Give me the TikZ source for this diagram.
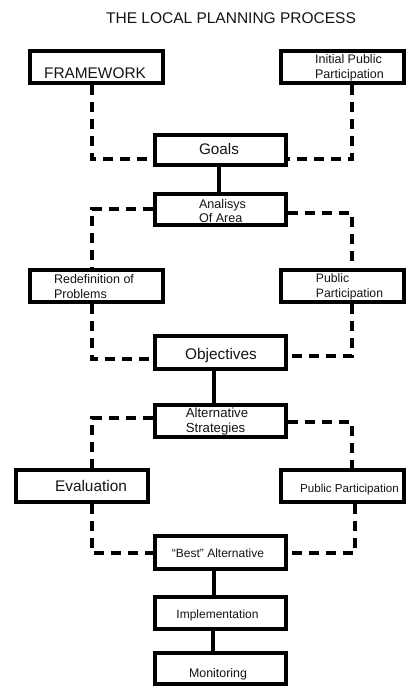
\documentclass[tikz,border=0pt]{standalone}
\usepackage{fontspec}
\setmainfont{Liberation Sans}
\usetikzlibrary{calc}
\tikzset{
  box/.style={draw=black, line width=3.6pt, fill=white, inner sep=0pt, minimum width=131.5pt},
  lbl/.style={inner sep=0pt, text=black!92},
  dl/.style={draw=black, line width=3.8pt, dash pattern=on 10pt off 7pt},
  sl/.style={draw=black, line width=3.6pt},
}
\newcommand{\fs}[2]{\fontsize{#1}{#2}\selectfont}
\begin{document}
\begin{tikzpicture}[x=1pt,y=-1pt]
\useasboundingbox (0,0) rectangle (406,687);
% title
\node[lbl, anchor=base, font=\fs{15.5}{18}] (title) at (231,23.3) {THE LOCAL PLANNING PROCESS};
% boxes
\node[box, minimum width=133.5pt, minimum height=32.5pt] (fw) at (96.5,67) {};
\node[box, minimum width=123.5pt, minimum height=32.5pt] (ipp) at (342.5,67) {};
\node[box, minimum height=30.5pt] (goals) at (220.5,150) {};
\node[box, minimum height=31.5pt] (ana) at (220.5,209.5) {};
\node[box, minimum width=133.5pt, minimum height=32.5pt] (redef) at (96.5,286) {};
\node[box, minimum width=123.5pt, minimum height=32.5pt] (pp1) at (342.5,286) {};
\node[box, minimum height=33.5pt] (obj) at (220.5,352.5) {};
\node[box, minimum height=32.5pt] (alt) at (220.5,421) {};
\node[box, minimum width=132.5pt, minimum height=32.5pt] (eval) at (82,486) {};
\node[box, minimum width=123.5pt, minimum height=32.5pt] (pp2) at (342.5,486) {};
\node[box, minimum height=33.5pt] (best) at (220.5,552.5) {};
\node[box, minimum height=32.5pt] (impl) at (220.5,613) {};
\node[box, minimum height=31.5pt] (mon) at (220.5,668.5) {};
% labels
\node[lbl, anchor=base, font=\fs{15.4}{18}] (tfw) at (95,78.3) {FRAMEWORK};
\node[lbl, align=left, font=\fs{12.5}{14.3}] (tipp) at (349.5,67.9) {Initial Public\\Participation};
\node[lbl, anchor=base, font=\fs{15.3}{18}] (tgoals) at (219,155) {Goals};
\node[lbl, align=left, font=\fs{12.6}{14.4}] (tana) at (222.5,210.9) {Analisys\\Of Area};
\node[lbl, align=left, font=\fs{12.5}{15}] (tredef) at (94,287) {Redefinition of\\Problems};
\node[lbl, align=left, font=\fs{12.2}{15}] (tpp1) at (349.5,287) {Public\\Participation};
\node[lbl, anchor=base, font=\fs{15.4}{18}] (tobj) at (221,359.3) {Objectives};
\node[lbl, align=left, font=\fs{13.2}{15.5}] (talt) at (217,421.6) {Alternative\\Strategies};
\node[lbl, anchor=base, font=\fs{15.4}{18}] (teval) at (91,491.7) {Evaluation};
\node[lbl, anchor=base, font=\fs{11.6}{14}] (tpp2) at (349.5,492.7) {Public Participation};
\node[lbl, anchor=base, font=\fs{12}{14}] (tbest) at (218,557.3) {“Best” Alternative};
\node[lbl, anchor=base, font=\fs{12}{14}] (timpl) at (217.5,618.3) {Implementation};
\node[lbl, anchor=base, font=\fs{12.4}{14}] (tmon) at (218,677.7) {Monitoring};
% corner coordinates
\coordinate (c1) at (92,159);
\coordinate (c2) at (352,159);
\coordinate (c3) at (92,209);
\coordinate (c4) at (352,213);
\coordinate (c5) at (92,359);
\coordinate (c6) at (352,356);
\coordinate (c7) at (92,418);
\coordinate (c8) at (352,422);
\coordinate (c9) at (92,553);
\coordinate (c10) at (355,553);
% dashed connectors
\draw[dl] (fw.south -| c1) -- (c1) -- (c1 -| goals.west);
\draw[dl] (ipp.south -| c2) -- (c2) -- (c2 -| goals.east);
\draw[dl] (ana.west |- c3) -- (c3) -- (c3 |- redef.north);
\draw[dl] (ana.east |- c4) -- (c4) -- (c4 |- pp1.north);
\draw[dl] (redef.south -| c5) -- (c5) -- (c5 -| obj.west);
\draw[dl] (pp1.south -| c6) -- (c6) -- (c6 -| obj.east);
\draw[dl] (alt.west |- c7) -- (c7) -- (c7 |- eval.north);
\draw[dl] (alt.east |- c8) -- (c8) -- (c8 |- pp2.north);
\draw[dl] (eval.south -| c9) -- (c9) -- (c9 -| best.west);
\draw[dl] (pp2.south -| c10) -- (c10) -- (c10 -| best.east);
% solid connectors
\draw[sl] ([xshift=-1.5pt]goals.south) -- ([xshift=-1.5pt]ana.north);
\draw[sl] ([xshift=-6.5pt]obj.south) -- ([xshift=-6.5pt]alt.north);
\draw[sl] ([xshift=-6.5pt]best.south) -- ([xshift=-6.5pt]impl.north);
\draw[sl] ([xshift=-7.5pt]impl.south) -- ([xshift=-7.5pt]mon.north);
\end{tikzpicture}
\end{document}
